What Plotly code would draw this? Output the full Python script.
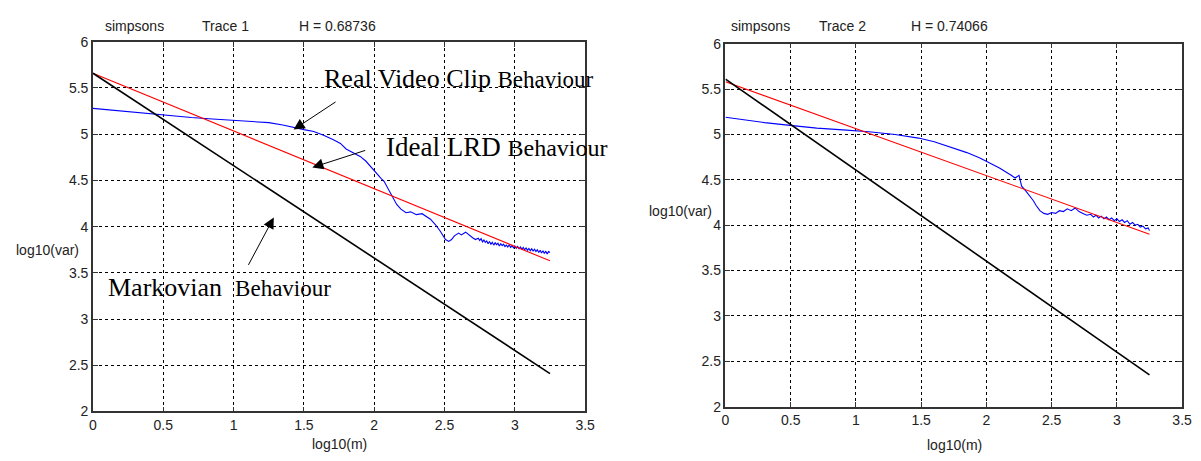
import plotly.graph_objects as go

W, H = 1201, 461

# ---------------- data ----------------
# Trace 1 (left panel)
t1_blue_x = [0, 0.1, 0.2, 0.3, 0.42, 0.55, 0.7, 0.85, 1.0, 1.12, 1.25, 1.35, 1.43, 1.5, 1.57,
             1.64, 1.71, 1.76, 1.80, 1.85, 1.9, 1.94, 1.98, 2.015, 2.05, 2.07, 2.1, 2.13, 2.16,
             2.19, 2.226, 2.26, 2.30, 2.34, 2.37, 2.40, 2.436, 2.47, 2.507, 2.53, 2.55, 2.57,
             2.6, 2.62, 2.65, 2.68, 2.7, 2.72, 2.74, 2.75, 2.76, 2.77, 2.78, 2.79, 2.8, 2.81,
             2.82, 2.83, 2.84, 2.85, 2.86, 2.87, 2.88, 2.89, 2.9, 2.91, 2.92, 2.93, 2.94, 2.95,
             2.96, 2.97, 2.98, 2.99, 3.0, 3.01, 3.02, 3.03, 3.04, 3.05, 3.06, 3.07, 3.08, 3.09,
             3.1, 3.11, 3.12, 3.13, 3.14, 3.15, 3.16, 3.17, 3.18, 3.19, 3.2, 3.21, 3.22, 3.23,
             3.24, 3.25]
t1_blue_y = [5.28, 5.265, 5.25, 5.235, 5.22, 5.20, 5.18, 5.165, 5.15, 5.14, 5.125, 5.10, 5.07,
             5.05, 5.03, 4.99, 4.94, 4.90, 4.84, 4.80, 4.76, 4.71, 4.64, 4.57, 4.52, 4.49, 4.41,
             4.32, 4.24, 4.19, 4.15, 4.16, 4.13, 4.14, 4.11, 4.08, 4.02, 3.95, 3.86, 3.84, 3.86,
             3.90, 3.93, 3.91, 3.94, 3.90, 3.88, 3.86, 3.875, 3.85, 3.87, 3.835, 3.855, 3.83,
             3.845, 3.815, 3.84, 3.81, 3.83, 3.80, 3.825, 3.805, 3.82, 3.79, 3.815, 3.795, 3.81,
             3.785, 3.80, 3.78, 3.805, 3.775, 3.795, 3.77, 3.79, 3.765, 3.785, 3.76, 3.78, 3.755,
             3.775, 3.75, 3.77, 3.745, 3.765, 3.74, 3.76, 3.735, 3.755, 3.73, 3.75, 3.72, 3.745,
             3.715, 3.74, 3.71, 3.735, 3.705, 3.73, 3.72]
t1_red_x = [0, 3.25]
t1_red_y = [5.66, 3.63]
t1_black_x = [0, 3.25]
t1_black_y = [5.66, 2.41]

# Trace 2 (right panel)
t2_blue_x = [0, 0.15, 0.3, 0.495, 0.7, 0.9, 1.1, 1.3, 1.48, 1.6, 1.75, 1.85, 1.95, 2.02, 2.1,
             2.19, 2.22, 2.25, 2.27, 2.3, 2.33, 2.36, 2.38, 2.41, 2.44, 2.47, 2.5, 2.53, 2.56,
             2.59, 2.62, 2.65, 2.68, 2.71, 2.74, 2.77, 2.8, 2.82, 2.84, 2.86, 2.88, 2.9, 2.92,
             2.94, 2.96, 2.98, 3.0, 3.02, 3.04, 3.06, 3.08, 3.1, 3.12, 3.14, 3.16, 3.18, 3.2,
             3.22, 3.24, 3.25]
t2_blue_y = [5.19, 5.16, 5.13, 5.10, 5.07, 5.05, 5.03, 5.0, 4.96, 4.92, 4.85, 4.80, 4.74, 4.69,
             4.63, 4.55, 4.52, 4.55, 4.43, 4.38, 4.33, 4.27, 4.22, 4.16, 4.13, 4.12, 4.14, 4.13,
             4.16, 4.15, 4.18, 4.16, 4.19, 4.15, 4.13, 4.11, 4.12, 4.09, 4.11, 4.08, 4.10, 4.07,
             4.09, 4.06, 4.08, 4.05, 4.07, 4.04, 4.06, 4.03, 4.05, 4.01, 4.03, 4.00, 4.01, 3.98,
             3.99, 3.96, 3.97, 3.94]
t2_red_x = [0, 3.25]
t2_red_y = [5.58, 3.90]
t2_black_x = [0, 3.25]
t2_black_y = [5.61, 2.35]

x_ticks = [0, 0.5, 1, 1.5, 2, 2.5, 3, 3.5]
x_tick_text = ["0", "0.5", "1", "1.5", "2", "2.5", "3", "3.5"]
y_ticks = [2, 2.5, 3, 3.5, 4, 4.5, 5, 5.5, 6]
y_tick_text = ["2", "2.5", "3", "3.5", "4", "4.5", "5", "5.5", "6"]

titles_left = ["simpsons", "Trace 1", "H = 0.68736"]
titles_right = ["simpsons", "Trace 2", "H = 0.74066"]

# ---------------- figure ----------------
fig = go.Figure()

def add_panel(xa, ya, bx, by, rx, ry, kx, ky):
    fig.add_trace(go.Scatter(x=bx, y=by, mode="lines", line=dict(color="#0000ff", width=1.1),
                             xaxis=xa, yaxis=ya, showlegend=False))
    fig.add_trace(go.Scatter(x=rx, y=ry, mode="lines", line=dict(color="#ff0000", width=1.1),
                             xaxis=xa, yaxis=ya, showlegend=False))
    fig.add_trace(go.Scatter(x=kx, y=ky, mode="lines", line=dict(color="#000000", width=1.6),
                             xaxis=xa, yaxis=ya, showlegend=False))

add_panel("x", "y", t1_blue_x, t1_blue_y, t1_red_x, t1_red_y, t1_black_x, t1_black_y)
add_panel("x2", "y2", t2_blue_x, t2_blue_y, t2_red_x, t2_red_y, t2_black_x, t2_black_y)

tickfont = dict(family="Liberation Sans, Arial, sans-serif", size=14, color="#222222")

def xaxis_cfg(domain, anchor):
    return dict(domain=domain, anchor=anchor, range=[0, 3.5], tickvals=x_ticks, ticktext=x_tick_text,
                showgrid=True, gridcolor="#000000", gridwidth=1, griddash="3px,3px",
                showline=True, linecolor="#333333", linewidth=1.5, mirror="allticks",
                ticks="inside", ticklen=5, tickcolor="#333333", tickfont=tickfont,
                zeroline=False, fixedrange=True)

def yaxis_cfg(domain, anchor):
    return dict(domain=domain, anchor=anchor, range=[2, 6], tickvals=y_ticks, ticktext=y_tick_text,
                showgrid=True, gridcolor="#000000", gridwidth=1, griddash="3px,3px",
                showline=True, linecolor="#333333", linewidth=1.5, mirror="allticks",
                ticks="inside", ticklen=5, tickcolor="#333333", tickfont=tickfont,
                zeroline=False, fixedrange=True)

L = dict(x0=90, x1=588, y0=35, y1=418)
R = dict(x0=730, x1=1192, y0=37, y1=413)

fig.update_layout(
    width=W, height=H, margin=dict(l=0, r=0, t=0, b=0),
    paper_bgcolor="white", plot_bgcolor="white",
    xaxis=xaxis_cfg([L["x0"] / W, L["x1"] / W], "y"),
    yaxis=yaxis_cfg([1 - L["y1"] / H, 1 - L["y0"] / H], "x"),
    xaxis2=xaxis_cfg([R["x0"] / W, R["x1"] / W], "y2"),
    yaxis2=yaxis_cfg([1 - R["y1"] / H, 1 - R["y0"] / H], "x2"),
)

lab_font = dict(family="Liberation Sans, Arial, sans-serif", size=14, color="#222222")

def paper_text(text, px, py, size=14, xanchor="center"):
    fig.add_annotation(text=text, x=px / W, y=1 - py / H, xref="paper", yref="paper",
                       showarrow=False, xanchor=xanchor, yanchor="middle",
                       font=dict(lab_font, size=size))

# titles
for t, px in zip(titles_left, [132, 224, 337]):
    paper_text(t, px, 19)
for t, px in zip(titles_right, [765, 848, 957]):
    paper_text(t, px, 19)

# axis labels
paper_text("log10(m)", 339, 452)
paper_text("log10(m)", 962, 453)
paper_text("log10(var)", 44, 251)
paper_text("log10(var)", 684, 210)

# behaviour annotations (left panel)
serif = "Liberation Serif, Times New Roman, serif"

def label(text, x, y, size):
    fig.add_annotation(text=text, x=x, y=y, xref="x", yref="y", showarrow=False,
                       xanchor="left", yanchor="middle",
                       font=dict(family=serif, size=size, color="#000000"))

label("Real Video Clip <span style='font-size:23px'>Behaviour</span>", 1.63, 5.60, 26)
label("Ideal LRD <span style='font-size:24px'>Behaviour</span>", 2.07, 4.86, 27)
label("Markovian  <span style='font-size:23px'>Behaviour</span>", 0.09, 3.34, 26)

def arrow(hx, hy, tx, ty):
    fig.add_annotation(x=hx, y=hy, ax=tx, ay=ty, xref="x", yref="y", axref="x", ayref="y",
                       text="", showarrow=True, arrowhead=2, arrowsize=2.2, arrowwidth=1.0,
                       arrowcolor="#000000")

arrow(1.427, 5.05, 1.736, 5.36)
arrow(1.56, 4.64, 1.947, 4.83)
arrow(1.286, 4.10, 1.10, 3.57)

fig.write_html("out.html")
